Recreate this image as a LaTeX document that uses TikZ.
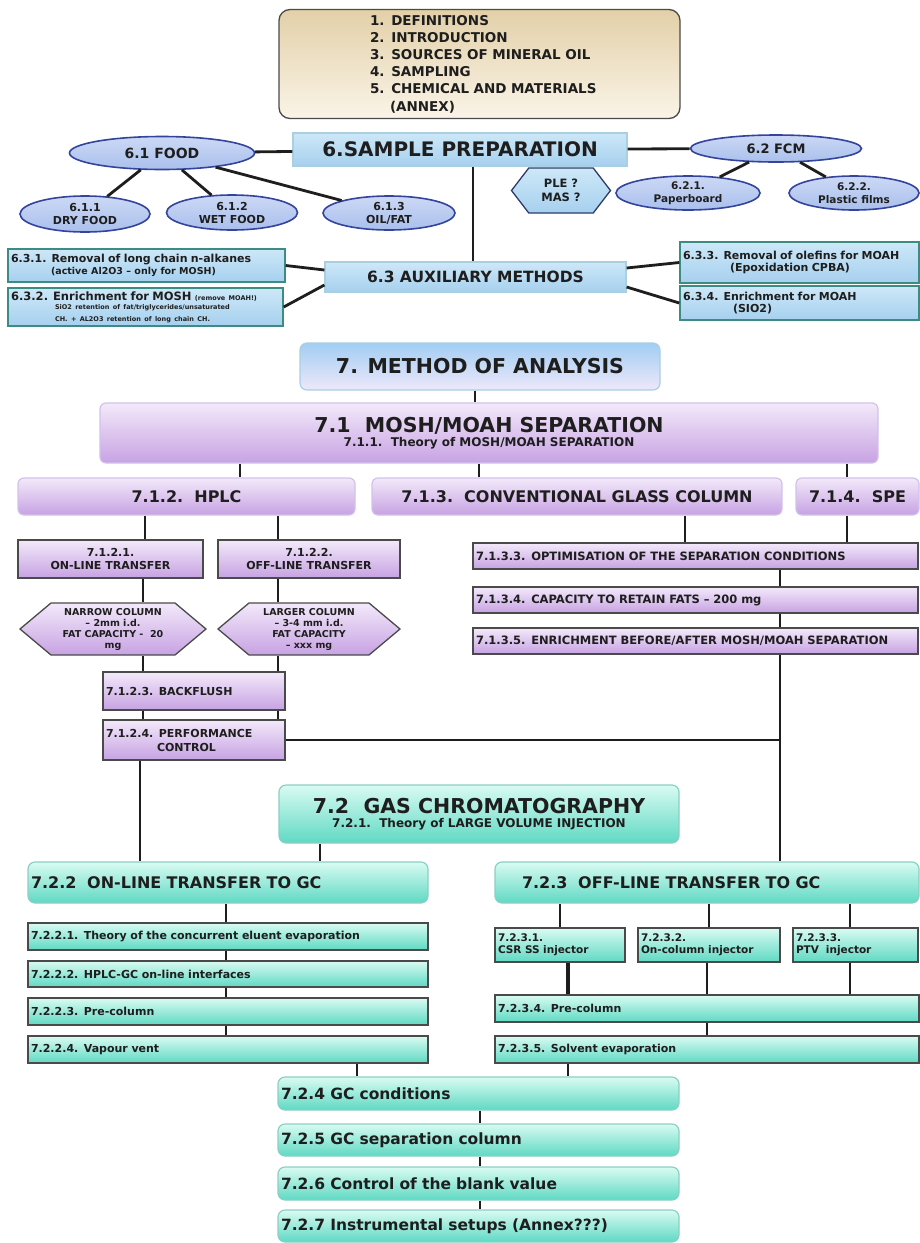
\documentclass[tikz,border=0pt]{standalone}
\usepackage{fontspec}
\setmainfont{DejaVu Sans}
\usepackage{tikz}
\usetikzlibrary{positioning, calc, shapes.geometric, shapes.symbols}

\definecolor{tanTop}{HTML}{E3D0A8}
\definecolor{tanBot}{HTML}{FAF4E8}
\definecolor{skyTop}{HTML}{CDE8F8}
\definecolor{skyBot}{HTML}{A6D0EE}
\definecolor{skyEdge}{HTML}{A9CFE0}
\definecolor{auxEdge}{HTML}{3C8C84}
\definecolor{ovalTop}{HTML}{CCD9F5}
\definecolor{ovalBot}{HTML}{A9BFEC}
\definecolor{ovalEdge}{HTML}{34449C}
\definecolor{hexEdge}{HTML}{2F3B66}
\definecolor{methTop}{HTML}{A2CDF3}
\definecolor{methBot}{HTML}{EEE8FA}
\definecolor{lilaTop}{HTML}{F3E9FA}
\definecolor{lilaBot}{HTML}{C7A2E3}
\definecolor{lilaEdge}{HTML}{D2C2EA}
\definecolor{mintTop}{HTML}{D9FBF2}
\definecolor{mintBot}{HTML}{5FD9C3}
\definecolor{mintEdge}{HTML}{8CCFC4}
\definecolor{edgeGray}{HTML}{4A4A4A}
\definecolor{ink}{HTML}{1E1E1E}

\newcommand{\fsz}[2]{\fontsize{#1}{#2}\selectfont}

\begin{document}
\begin{tikzpicture}[x=1pt, y=-1pt,
  every node/.style={font=\bfseries, text=ink, inner sep=3pt, align=center},
  wh/.style 2 args={minimum width=#1pt, minimum height=#2pt},
  lbox/.style={align=left, text width=#1pt},
  link/.style={line width=2.8pt, ink},
  tanbox/.style={rectangle, rounded corners=11pt, draw=edgeGray, line width=1.3pt, top color=tanTop, bottom color=tanBot},
  bluebox/.style={rectangle, draw=skyEdge, line width=1.2pt, top color=skyTop, bottom color=skyBot},
  auxbox/.style={rectangle, draw=auxEdge, line width=1.4pt, top color=skyTop, bottom color=skyBot},
  oval/.style={ellipse, draw=ovalEdge, line width=1.6pt, top color=ovalTop, bottom color=ovalBot, inner sep=0pt},
  hexa/.style={signal, signal to=west and east, draw=#1, line width=1.3pt, inner sep=0pt},
  methbox/.style={rectangle, rounded corners=7pt, draw=skyEdge, line width=1.2pt, top color=methTop, bottom color=methBot},
  lilabox/.style={rectangle, rounded corners=6pt, draw=lilaEdge, line width=1.2pt, top color=lilaTop, bottom color=lilaBot},
  lilastep/.style={rectangle, draw=edgeGray, line width=1.4pt, top color=lilaTop, bottom color=lilaBot},
  mintbox/.style={rectangle, rounded corners=7pt, draw=mintEdge, line width=1.2pt, top color=mintTop, bottom color=mintBot},
  mintstep/.style={rectangle, draw=edgeGray, line width=1.4pt, top color=mintTop, bottom color=mintBot}]
\useasboundingbox (0,0) rectangle (919,1243);

% chapters 1 to 6
\node[tanbox, wh={401}{109}, lbox=395, font=\bfseries\fsz{13.5}{17.2}] (intro) at (479.5,64) {\hspace*{88pt}1. DEFINITIONS\\
  \hspace*{88pt}2. INTRODUCTION\\\hspace*{88pt}3. SOURCES OF MINERAL OIL\\\hspace*{88pt}4. SAMPLING\\
  \hspace*{88pt}5. CHEMICAL AND MATERIALS\\\hspace*{108pt}(ANNEX)};
\node[bluebox, wh={334}{33}, font=\bfseries\fsz{20}{24}] (prep) at (460,149.5) {6.SAMPLE PREPARATION};
\node[oval, wh={185}{33}, font=\bfseries\fsz{14}{16}] (food) at (162,153) {6.1 FOOD};
\node[oval, wh={130}{36}, font=\bfseries\fsz{11}{13}] (dry) at (85,214) {6.1.1\\DRY FOOD};
\node[oval, wh={131}{35}, font=\bfseries\fsz{11}{13}] (wet) at (232,212.5) {6.1.2\\WET FOOD};
\node[oval, wh={132}{34}, font=\bfseries\fsz{11}{13}] (oil) at (389,213) {6.1.3\\OIL/FAT};
\node[oval, wh={171}{27}, font=\bfseries\fsz{13}{15}] (fcm) at (776,148.5) {6.2 FCM};
\node[oval, wh={144}{34}, font=\bfseries\fsz{10.5}{12.5}] (paper) at (688,193) {6.2.1.\\Paperboard};
\node[oval, wh={130}{34}, font=\bfseries\fsz{10.5}{12.5}] (plastic) at (854,193) {6.2.2.\\Plastic films};
\node[hexa=hexEdge, signal pointer angle=105, top color=skyTop, bottom color=skyBot, wh={99}{45}, font=\bfseries\fsz{11.5}{14}] (ple) at (561,190.5) {PLE ?\\MAS ?};
\node[bluebox, wh={301}{30}, font=\bfseries\fsz{15.5}{18}] (aux) at (475.5,277) {6.3 AUXILIARY METHODS};
\node[auxbox, wh={277}{33}, lbox=271] (r631) at (146.5,265.5) {\fsz{11}{13}6.3.1. Removal of long chain n-alkanes\\
  \hspace*{40pt}{\fsz{9.5}{12}(active Al2O3 -- only for MOSH)}};
\node[auxbox, wh={275}{38}, lbox=269] (r632) at (145.5,307) {\fsz{6.5}{9}{\fsz{11.5}{9}6.3.2. Enrichment for MOSH} (remove MOAH!)\\
  \hspace*{44pt}SiO2 retention of fat/triglycerides/unsaturated\\\hspace*{44pt}CH. + AL2O3 retention of long chain CH.};
\node[auxbox, wh={239}{41}, lbox=233] (r633) at (799.5,262.5) {\fsz{11}{13}6.3.3. Removal of olefins for MOAH\\\hspace*{47pt}(Epoxidation CPBA)};
\node[auxbox, wh={239}{34}, lbox=233] (r634) at (799.5,303) {\fsz{11}{13}6.3.4. Enrichment for MOAH\\\hspace*{50pt}(SIO2)};

% chapter 7.1
\node[methbox, wh={360}{47}, font=\bfseries\fsz{20.5}{24}] (method) at (480,366.5) {7. METHOD OF ANALYSIS};
\node[lilabox, wh={778}{60}] (mosh) at (489,433) {{\fsz{20.5}{22}7.1\ \ MOSH/MOAH SEPARATION}\\[2pt]{\fsz{12}{14}7.1.1.\ \ Theory of MOSH/MOAH SEPARATION}};
\node[lilabox, wh={337}{37}, font=\bfseries\fsz{16}{19}] (hplc) at (186.5,496.5) {7.1.2.\ \ HPLC};
\node[lilabox, wh={410}{37}, font=\bfseries\fsz{16}{19}] (conv) at (577,496.5) {7.1.3.\ \ CONVENTIONAL GLASS COLUMN};
\node[lilabox, wh={123}{37}, font=\bfseries\fsz{16}{19}] (spe) at (857.5,496.5) {7.1.4.\ \ SPE};
\node[lilastep, wh={185}{38}, font=\bfseries\fsz{11}{13}] (onl) at (110.5,559) {7.1.2.1.\\ON-LINE TRANSFER};
\node[lilastep, wh={182}{38}, font=\bfseries\fsz{11}{13}] (offl) at (309,559) {7.1.2.2.\\OFF-LINE TRANSFER};
\node[hexa=edgeGray, signal pointer angle=80, top color=lilaTop, bottom color=lilaBot, wh={186}{52}, font=\bfseries\fsz{9.5}{11}] (hexn) at (113,629) {NARROW COLUMN\\-- 2mm i.d.\\FAT CAPACITY -\ \ 20\\mg};
\node[hexa=edgeGray, signal pointer angle=80, top color=lilaTop, bottom color=lilaBot, wh={182}{52}, font=\bfseries\fsz{9.5}{11}] (hexl) at (309,629) {LARGER COLUMN\\-- 3-4 mm i.d.\\FAT CAPACITY\\-- xxx mg};
\node[lilastep, wh={182}{38}, lbox=176, font=\bfseries\fsz{11}{13}] (back) at (194,691) {7.1.2.3. BACKFLUSH};
\node[lilastep, wh={182}{40}, lbox=176, font=\bfseries\fsz{11}{14}] (perf) at (194,740) {7.1.2.4. PERFORMANCE\\\hspace*{51pt}CONTROL};
\node[lilastep, wh={445}{26}, lbox=439, font=\bfseries\fsz{11.5}{13}] (c3) at (695.5,556) {7.1.3.3. OPTIMISATION OF THE SEPARATION CONDITIONS};
\node[lilastep, wh={445}{26}, lbox=439, font=\bfseries\fsz{11.5}{13}] (c4) at (695.5,600) {7.1.3.4. CAPACITY TO RETAIN FATS -- 200 mg};
\node[lilastep, wh={445}{26}, lbox=439, font=\bfseries\fsz{11.5}{13}] (c5) at (695.5,641) {7.1.3.5. ENRICHMENT BEFORE/AFTER MOSH/MOAH SEPARATION};
\coordinate (jn) at (780,740);

% chapter 7.2
\node[mintbox, wh={400}{58}] (gc) at (479,814) {{\fsz{20.5}{22}7.2\ \ GAS CHROMATOGRAPHY}\\[2pt]{\fsz{12}{14}7.2.1.\ \ Theory of LARGE VOLUME INJECTION}};
\node[mintbox, wh={400}{41}, lbox=394, font=\bfseries\fsz{16}{19}] (on) at (228,882.5) {7.2.2\ \ ON-LINE TRANSFER TO GC};
\node[mintbox, wh={424}{41}, lbox=418, font=\bfseries\fsz{16}{19}] (off) at (707,882.5) {\hspace*{24pt}7.2.3\ \ OFF-LINE TRANSFER TO GC};
\node[mintstep, wh={400}{27}, lbox=394, font=\bfseries\fsz{11}{13}] (on1) at (228,936.5) {7.2.2.1. Theory of the concurrent eluent evaporation};
\node[mintstep, wh={400}{26}, lbox=394, font=\bfseries\fsz{11}{13}] (on2) at (228,974) {7.2.2.2. HPLC-GC on-line interfaces};
\node[mintstep, wh={400}{27}, lbox=394, font=\bfseries\fsz{11}{13}] (on3) at (228,1011.5) {7.2.2.3. Pre-column};
\node[mintstep, wh={400}{27}, lbox=394, font=\bfseries\fsz{11}{13}] (on4) at (228,1049.5) {7.2.2.4. Vapour vent};
\node[mintstep, wh={130}{34}, lbox=124, font=\bfseries\fsz{10.5}{12}] (inj1) at (560,945) {7.2.3.1.\\CSR SS injector};
\node[mintstep, wh={142}{34}, lbox=136, font=\bfseries\fsz{10.5}{12}] (inj2) at (709,945) {7.2.3.2.\\On-column injector};
\node[mintstep, wh={125}{34}, lbox=119, font=\bfseries\fsz{10.5}{12}] (inj3) at (855.5,945) {7.2.3.3.\\PTV\ \ injector};
\node[mintstep, wh={424}{27}, lbox=418, font=\bfseries\fsz{11}{13}] (pre) at (707,1008.5) {7.2.3.4. Pre-column};
\node[mintstep, wh={424}{27}, lbox=418, font=\bfseries\fsz{11}{13}] (solv) at (707,1049.5) {7.2.3.5. Solvent evaporation};
\node[mintbox, wh={401}{33}, lbox=395, font=\bfseries\fsz{15.5}{18}] (gc4) at (478.5,1093.5) {7.2.4 GC conditions};
\node[mintbox, wh={401}{32}, lbox=395, font=\bfseries\fsz{15.5}{18}] (gc5) at (478.5,1140) {7.2.5 GC separation column};
\node[mintbox, wh={401}{33}, lbox=395, font=\bfseries\fsz{15.5}{18}] (gc6) at (478.5,1183.5) {7.2.6 Control of the blank value};
\node[mintbox, wh={401}{32}, lbox=395, font=\bfseries\fsz{15.5}{18}] (gc7) at (478.5,1226) {7.2.7 Instrumental setups (Annex???)};

% links of 6
\draw[link] (food) -- (prep);
\draw[link] (food) -- (dry);
\draw[link] (food) -- (wet);
\draw[link] (food) -- (oil);
\draw[link] (prep) -- (fcm);
\draw[link] (fcm) -- (paper);
\draw[link] (fcm) -- (plastic);
\draw[link] (prep.south -| 473,0) -- (aux.north -| 473,0);
\draw[link] ($(aux.west)+(0,-7)$) -- (r631.east);
\draw[link] ($(aux.west)+(0,8)$) -- (r632.east);
\draw[link] ($(aux.east)+(0,-9)$) -- (r633.west);
\draw[link] ($(aux.east)+(0,10)$) -- (r634.west);

% links of 7.1
\draw[link] (method.south -| 475,0) -- (mosh.north -| 475,0);
\draw[link] (mosh.south -| 240,0) -- (hplc.north -| 240,0);
\draw[link] (mosh.south -| 479,0) -- (conv.north -| 479,0);
\draw[link] (mosh.south -| 847,0) -- (spe.north -| 847,0);
\draw[link] (hplc.south -| 145,0) -- (onl.north -| 145,0);
\draw[link] (hplc.south -| 278,0) -- (offl.north -| 278,0);
\draw[link] (onl.south -| 143,0) -- (hexn.north -| 143,0);
\draw[link] (offl.south -| 278,0) -- (hexl.north -| 278,0);
\draw[link] (hexn.south -| 143,0) -- (back.north -| 143,0);
\draw[link] (hexl.south -| 278,0) -- (back.north -| 278,0);
\draw[link] (back.south -| 143,0) -- (perf.north -| 143,0);
\draw[link] (back.south -| 278,0) -- (perf.north -| 278,0);
\draw[link] (conv.south -| 685,0) -- (c3.north -| 685,0);
\draw[link] (spe.south -| 847,0) -- (c3.north -| 847,0);
\draw[link] (c3.south -| jn) -- (c4.north -| jn);
\draw[link] (c4.south -| jn) -- (c5.north -| jn);
\draw[link] (perf.east) -- (jn);
\draw[link] (c5.south -| jn) -- (off.north -| jn);
\draw[link] (perf.south -| 140,0) -- (on.north -| 140,0);

% links of 7.2
\draw[link] (gc.south -| 320,0) -- (on.north -| 320,0);
\draw[link] (on.south -| 226,0) -- (on1.north -| 226,0);
\draw[link] (on1.south -| 226,0) -- (on2.north -| 226,0);
\draw[link] (on2.south -| 226,0) -- (on3.north -| 226,0);
\draw[link] (on3.south -| 226,0) -- (on4.north -| 226,0);
\draw[link] (on4.south -| 357,0) -- (gc4.north -| 357,0);
\draw[link] (off.south -| inj1) -- (inj1.north -| inj1);
\draw[link] (off.south -| inj2) -- (inj2.north);
\draw[link] (off.south -| 850,0) -- (inj3.north -| 850,0);
\draw[link, line width=4pt] (inj1.south -| 568,0) -- (pre.north -| 568,0);
\draw[link] (inj2.south -| 707,0) -- (pre.north -| 707,0);
\draw[link] (inj3.south -| 850,0) -- (pre.north -| 850,0);
\draw[link] (pre.south -| 707,0) -- (solv.north -| 707,0);
\draw[link] (solv.south -| 568,0) -- (gc4.north -| 568,0);
\draw[link] (gc4.south -| 480,0) -- (gc5.north -| 480,0);
\draw[link] (gc5.south -| 480,0) -- (gc6.north -| 480,0);
\draw[link] (gc6.south -| 480,0) -- (gc7.north -| 480,0);
\end{tikzpicture}
\end{document}
